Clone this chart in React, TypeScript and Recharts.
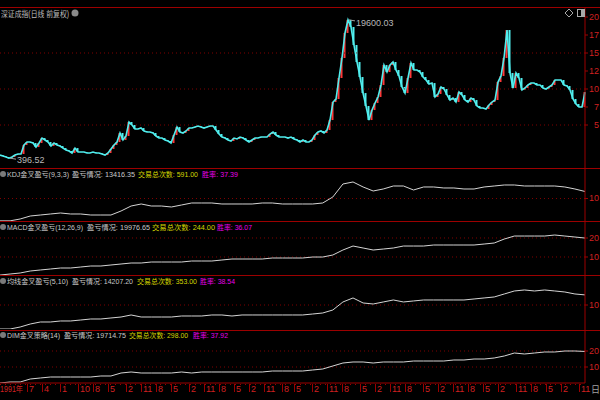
import React from 'react';
import { ComposedChart, LineChart, Line, Bar, Cell, XAxis, YAxis, ReferenceLine, ReferenceDot } from 'recharts';

// 深证成指 daily closes, sampled along the trace
const closes = [
  830, 690, 560, 396.52, 560, 830, 970, 970, 2220, 2640, 2640, 2500, 1940, 2500, 3190, 2920, 2640, 2080, 2500, 2220,
  2080, 1800, 1530, 1390, 1110, 1800, 1250, 1250, 1250, 1110, 1110, 1250, 1110, 1110, 970, 830, 1110, 1670, 2220, 2640,
  3890, 2920, 3470, 5420, 5000, 4440, 4440, 4580, 4170, 4030, 4030, 3890, 3470, 3190, 3190, 2920, 2780, 2500, 3610, 4720,
  4030, 3890, 4170, 4580, 4580, 4720, 4860, 4720, 4580, 4720, 4860, 4860, 4310, 3750, 3330, 3190, 2920, 2780, 3190, 3060,
  3330, 3190, 2920, 2640, 2920, 3190, 3190, 3330, 3330, 3330, 3750, 4030, 3610, 3330, 3330, 3330, 3190, 3330, 3060, 2920,
  2640, 2920, 2640, 2640, 2920, 3610, 4030, 4170, 3890, 4310, 5690, 8190, 8610, 11530, 14310, 17780, 19600.03, 18610, 16110, 13750,
  11670, 9440, 7640, 5690, 7080, 8060, 8890, 10560, 13330, 12360, 13330, 13750, 12640, 11810, 10280, 9440, 11530, 13610, 12640, 12640,
  12360, 11670, 11250, 10700, 10830, 8890, 9310, 10280, 10000, 9170, 8470, 8750, 8190, 9580, 9170, 8470, 8190, 8750, 8470, 7640,
  7360, 7360, 7220, 7780, 8190, 8470, 10970, 11810, 14310, 18200, 12220, 10140, 12220, 11530, 9860, 10140, 10560, 10830, 10830, 10560,
  10560, 10140, 10000, 10280, 10560, 11250, 11250, 11250, 10560, 10420, 9860, 8610, 7920, 7500, 7500, 9580,
];

// 盈亏情况 curves of the four strategies
const kdjPnl = [
  -900, -900, 0, 1460, 1950, 2440, 2930, 2440, 2440, 1950, 1950, 1950, 3900, 6340, 7320, 6340, 6340, 5860, 6830, 7810,
  7810, 7810, 7320, 7320, 7320, 7320, 7810, 7810, 7320, 7320, 7320, 7320, 7810, 10740, 17080, 18060, 15620, 13660, 14640, 16100,
  16100, 14150, 15620, 15620, 15130, 15130, 14640, 14640, 15620, 16100, 16590, 16590, 16100, 16100, 16100, 16100, 15620, 14640, 13416.35,
];
const macdPnl = [
  500, 1050, 1580, 2630, 3160, 3680, 4210, 4210, 4730, 5260, 5260, 5790, 6310, 6840, 6840, 7360, 7360, 7360, 7360, 7890,
  7890, 7890, 8420, 8940, 8940, 8940, 8940, 9470, 9470, 9470, 9470, 9990, 9990, 11050, 13680, 15780, 14730, 13680, 14200, 14730,
  15780, 15780, 15780, 16310, 16310, 16310, 16310, 16310, 16830, 17360, 19460, 21040, 21040, 21040, 21040, 21570, 21040, 20510, 19976.65,
];
const maPnl = [
  0, 0, 830, 2080, 2920, 2920, 3340, 3340, 3750, 4170, 4170, 4590, 5000, 5840, 5000, 5000, 5000, 5000, 5420, 5420,
  5420, 5840, 5840, 5420, 5840, 5840, 5840, 5840, 5840, 5840, 5840, 6250, 6670, 7920, 11260, 12930, 10840, 10420, 11260, 12090,
  11260, 11680, 12090, 12090, 12090, 12090, 12090, 12510, 12930, 13340, 14590, 15840, 16260, 15840, 16260, 15840, 15420, 14590, 14207.2,
];
const dimPnl = [
  0, 630, 630, 2500, 3130, 3750, 3750, 3750, 3750, 3750, 4380, 4380, 6250, 6880, 6250, 6250, 6250, 6250, 6880, 6250,
  6880, 6880, 6880, 6880, 6880, 6880, 6880, 7500, 7500, 7500, 7500, 8130, 8750, 10630, 12500, 13130, 13130, 12500, 13130, 13130,
  13130, 13750, 13750, 13750, 13750, 14380, 14380, 15000, 15000, 15630, 16880, 18750, 18130, 18750, 19380, 19380, 20000, 20000, 19714.75,
];

const strategyNames = ['KDJ金叉盈亏(9,3,3)', 'MACD金叉盈亏(12,26,9)', '均线金叉盈亏(5,10)', 'DIM金叉策略(14)'];
const pnlTotals = ['13416.35', '19976.65', '14207.20', '19714.75'];
const tradeCounts = ['591.00', '244.00', '353.00', '298.00'];
const winRates = ['37.39', '36.07', '38.54', '37.92'];

const priceTicks = [5000, 7500, 10000, 12500, 15000, 17500, 20000];
const priceTickLabels = ['5', '7', '10', '12', '15', '17', '20'];
const priceGridLines = [5000, 10000, 15000];

const pnlTicks = [10000, 20000];
const pnlTickLabels = ['10', '20'];

const xTickBars = [0, 9, 14, 20, 26, 31, 36, 42, 47, 52, 57, 63, 68, 73, 78, 83, 88, 94, 98, 104, 109, 114, 120, 125, 130, 135, 141, 146, 151, 156, 161, 166, 172, 177, 182, 187, 193];
const xTickLabels = ['1991年', '7', '4', '1', '10', '8', '5', '2', '11', '8', '5', '2', '11', '8', '5', '2', '11', '8', '5', '2', '11', '8', '5', '2', '11', '8', '5', '2', '11', '8', '5', '2', '11', '8', '5', '2', '11'];

const FRAME = '#9c0000';
const GRID = '#800000';
const AXIS_TEXT = '#d02020';
const UP = '#ff3838';
const DOWN = '#50eeee';
const TEXT = '#c8c8c8';
const YELLOW = '#d4d400';
const MAGENTA = '#e800e8';
const FONT = '"Liberation Sans", "Noto Sans CJK SC", sans-serif';

const priceRows = closes.map((c, i) => {
  const o = i > 0 ? closes[i - 1] : c;
  return { i, c, range: [Math.min(o, c), Math.max(o, c)], up: c >= o };
});

const peakIdx = closes.indexOf(Math.max(...closes));
const lowIdx = closes.indexOf(Math.min(...closes));

const panels = [
  { data: kdjPnl, top: 168, h: 53, domain: [-976, 24878], ticks: [10000] },
  { data: macdPnl, top: 221, h: 54, domain: [526, 28947], ticks: [10000, 20000] },
  { data: maPnl, top: 275, h: 54, domain: [0, 22500], ticks: [10000] },
  { data: dimPnl, top: 329, h: 54, domain: [0, 33750], ticks: [10000, 20000] },
];

// header text spans (x from, x to) and baselines
const headerLayout = [
  { y: 177, segs: [[7, 69], [72, 135], [138, 198], [202, 238]] },
  { y: 230, segs: [[7, 83], [87, 150], [152, 215], [217, 252]] },
  { y: 284, segs: [[7, 68], [72, 133], [137, 197], [200, 235]] },
  { y: 338, segs: [[7, 60], [64, 126], [129, 188], [193, 228]] },
];

const rightTick = (labelOf: (v: number) => string) => (props: any) => {
  const { y, payload } = props;
  return (
    <g>
      <line x1={585} x2={588} y1={y} y2={y} stroke={FRAME} />
      <text x={599} y={y + 3} textAnchor="end" fontSize={9} fill={AXIS_TEXT} fontFamily={FONT}>
        {labelOf(payload.value)}
      </text>
    </g>
  );
};

const xTick = (props: any) => {
  const { x, payload } = props;
  const k = xTickBars.indexOf(payload.value);
  const first = k === 0;
  return (
    <g>
      {!first && <line x1={x + 0.5} x2={x + 0.5} y1={14} y2={22} stroke={FRAME} />}
      {first ? (
        <text x={x} y={22} fontSize={8.5} fill={AXIS_TEXT} fontFamily={FONT} textLength={23} lengthAdjust="spacingAndGlyphs">
          {xTickLabels[k]}
        </text>
      ) : (
        <text x={x + 2} y={22} fontSize={9} fill={AXIS_TEXT} fontFamily={FONT}>
          {xTickLabels[k]}
        </text>
      )}
    </g>
  );
};

const extremeLabel = (text: string, dy: number) => (props: any) => {
  const { viewBox } = props;
  const x = viewBox.x + (viewBox.width || 0) / 2;
  const y = viewBox.y + (viewBox.height || 0) / 2;
  return (
    <g>
      <line x1={x + 1} y1={y} x2={x + 7} y2={y + 1} stroke="#a0a0a0" />
      <text x={x + 8} y={y + dy} fontSize={9} fill="#b8b8b8" fontFamily={FONT}>{text}</text>
    </g>
  );
};

const App: React.FC = () => {
  return (
    <div style={{ position: 'absolute', left: 0, top: 0, width: 600, height: 400, background: '#000', overflow: 'hidden' }}>
      <div style={{ position: 'absolute', left: 0, top: 7 }}>
        <ComposedChart width={600} height={161} data={priceRows} margin={{ top: 0, right: 0, bottom: 0, left: 0 }}>
          <XAxis type="number" dataKey="i" domain={[0, closes.length - 1]} hide />
          <YAxis
            orientation="right"
            width={15}
            type="number"
            domain={[-970, 21390]}
            allowDataOverflow
            ticks={priceTicks}
            interval={0}
            tickLine={false}
            axisLine={{ stroke: FRAME }}
            tick={rightTick((v) => priceTickLabels[priceTicks.indexOf(v)])}
          />
          {priceGridLines.map((v) => (
            <ReferenceLine key={v} y={v} stroke={GRID} strokeDasharray="1 3" />
          ))}
          <Line dataKey="c" type="linear" stroke={DOWN} strokeWidth={1.6} dot={false} isAnimationActive={false} />
          <Bar dataKey="range" barSize={2} isAnimationActive={false}>
            {priceRows.map((r) => (
              <Cell key={r.i} fill={r.up ? UP : DOWN} />
            ))}
          </Bar>
          <ReferenceDot x={peakIdx} y={closes[peakIdx]} r={1} fill="none" stroke="none" label={extremeLabel(closes[peakIdx].toFixed(2), 6)} />
          <ReferenceDot x={lowIdx} y={closes[lowIdx]} r={1} fill="none" stroke="none" label={extremeLabel(closes[lowIdx].toFixed(2), 5)} />
        </ComposedChart>
      </div>

      {panels.map((p, n) => (
        <div key={n} style={{ position: 'absolute', left: 0, top: p.top }}>
          <LineChart width={600} height={p.h} data={p.data.map((v, k) => ({ k, v }))} margin={{ top: 0, right: 0, bottom: 0, left: 0 }}>
            <XAxis dataKey="k" hide />
            <YAxis
              orientation="right"
              width={15}
              type="number"
              domain={p.domain}
              allowDataOverflow
              ticks={p.ticks}
              interval={0}
              tickLine={false}
              axisLine={{ stroke: FRAME }}
              tick={rightTick((v) => pnlTickLabels[pnlTicks.indexOf(v)])}
            />
            {p.ticks.map((v) => (
              <ReferenceLine key={v} y={v} stroke={GRID} strokeDasharray="1 3" />
            ))}
            <Line dataKey="v" type="linear" stroke="#d4d4d4" strokeWidth={1} dot={false} isAnimationActive={false} />
          </LineChart>
        </div>
      ))}

      <div style={{ position: 'absolute', left: 0, top: 370 }}>
        <ComposedChart width={600} height={30} data={priceRows} margin={{ top: 0, right: 15, bottom: 0, left: 0 }}>
          <XAxis
            type="number"
            dataKey="i"
            domain={[0, closes.length - 1]}
            ticks={xTickBars}
            interval={0}
            height={17}
            tickLine={false}
            axisLine={{ stroke: FRAME }}
            tick={xTick}
          />
          <YAxis hide />
          <Line dataKey="c" stroke="none" dot={false} isAnimationActive={false} />
        </ComposedChart>
      </div>

      <svg width={600} height={400} style={{ position: 'absolute', left: 0, top: 0, pointerEvents: 'none' }}>
        {[7, 168, 221, 275, 330].map((y) => (
          <line key={y} x1={0} x2={600} y1={y + 0.5} y2={y + 0.5} stroke={FRAME} />
        ))}
        <line x1={0} x2={585} y1={384.5} y2={384.5} stroke={FRAME} strokeDasharray="1 4" />
        <text x={1} y={17} fontSize={8.5} fill="#bdbdbd" fontFamily={FONT} textLength={68} lengthAdjust="spacingAndGlyphs">
          深证成指(日线 前复权)
        </text>
        <circle cx={75} cy={13} r={3.5} fill="#8a8a8a" />
        <polygon points="569,9 573,13 569,17 565,13" fill="none" stroke="#a8a8a8" />
        <rect x={577.5} y={9.5} width={7} height={7} fill="none" stroke="#a8a8a8" />
        <rect x={581} y={10} width={3} height={6} fill="#a8a8a8" />
        {headerLayout.map((h, n) => {
          const parts = [
            { t: strategyNames[n], c: TEXT },
            { t: `盈亏情况: ${pnlTotals[n]}`, c: TEXT },
            { t: `交易总次数: ${tradeCounts[n]}`, c: YELLOW },
            { t: `胜率: ${winRates[n]}`, c: MAGENTA },
          ];
          return (
            <g key={n}>
              <circle cx={3} cy={h.y - 3} r={3} fill="#7a7a7a" />
              {parts.map((s, j) => (
                <text
                  key={j}
                  x={h.segs[j][0]}
                  y={h.y}
                  fontSize={7.3}
                  fill={s.c}
                  fontFamily={FONT}
                  textLength={h.segs[j][1] - h.segs[j][0]}
                  lengthAdjust="spacingAndGlyphs"
                >
                  {s.t}
                </text>
              ))}
            </g>
          );
        })}
        <text x={591} y={393} fontSize={9} fill="#a0a0a0" fontFamily={FONT}>日</text>
      </svg>
    </div>
  );
};

export default App;
